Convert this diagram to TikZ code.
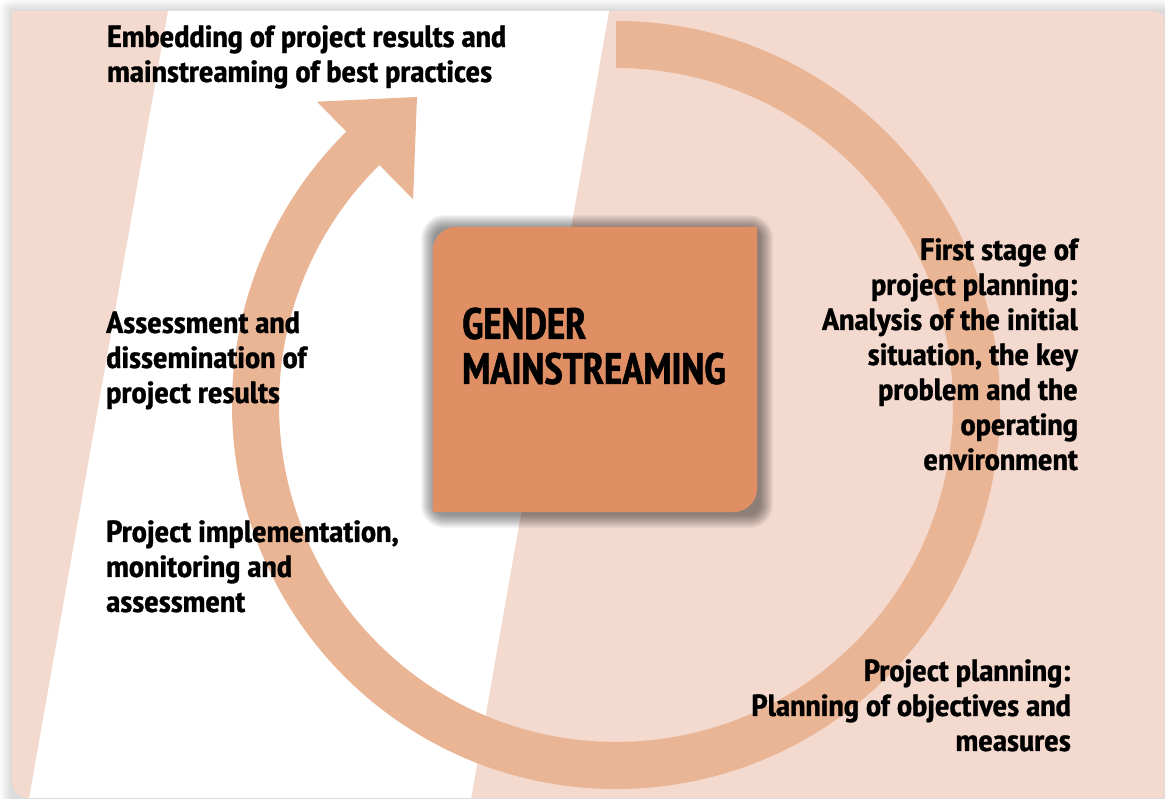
\documentclass[tikz,border=0pt]{standalone}
\usepackage{fontspec}
\IfFontExistsTF{PT Sans Narrow}{%
  \newfontfamily\lblfont{PT Sans Narrow}[FakeStretch=1.12, FakeBold=1]%
  \newfontfamily\ttlfont{PT Sans Narrow}[FakeStretch=0.96, FakeBold=1]}{%
  \newfontfamily\lblfont{PT Sans}[FakeStretch=0.9]%
  \newfontfamily\ttlfont{PT Sans}[FakeStretch=0.77]}
\definecolor{cardbg}{HTML}{F3D9CE}
\definecolor{bandc}{HTML}{EAB594}
\definecolor{boxc}{HTML}{E08F65}
\tikzset{
  lbl/.style={inner sep=0pt, font=\lblfont\bfseries\fontsize{30.5}{35}\selectfont},
  titlelbl/.style={inner sep=0pt, font=\ttlfont\bfseries\fontsize{44}{45}\selectfont},
}
\newcommand{\cardshape}{(12,788) -- (1154,788) arc[start angle=90, end angle=0, radius=10] -- (1164,1) -- (28,1) arc[start angle=270, end angle=180, radius=16] -- cycle}
\begin{document}
\begin{tikzpicture}[x=1pt,y=1pt]
\useasboundingbox (0,0) rectangle (1165,799);
\fill[white] (0,0) rectangle (1165,799);
% card shadow
\foreach \i in {1,...,12}
  \fill[black,opacity=0.012,rounded corners=\i] (12-\i,1-\i) rectangle (1164+\i,788+\i);
% card
\fill[cardbg] \cardshape;
\begin{scope}
  \clip \cardshape;
  \fill[white] (170,799) -- (611,799) -- (471,0) -- (29,0) -- cycle;
\end{scope}
% cycle band with arrow head
\coordinate (C) at (616,394);
\fill[bandc] (616,778) arc[start angle=90, end angle=-225.4, radius=384]
  -- ([shift={(C)}]134.6:426) -- (417,702) -- ([shift={(C)}]134.6:289)
  -- ([shift={(C)}]134.6:337) arc[start angle=-225.4, end angle=90, radius=337] -- cycle;
% central box
\node[minimum width=324pt, minimum height=285pt, inner sep=0pt] (gm) at (595,429.5) {};
\foreach \i in {1,...,14}
  \fill[black,opacity=0.035,rounded corners={10+\i}] ([shift={(2-\i,-2-\i)}]gm.south west) rectangle ([shift={(2+\i,-2+\i)}]gm.north east);
\fill[boxc] (gm.south west) -- ([yshift=-24pt]gm.north west) arc[start angle=180, end angle=90, radius=24]
  -- (gm.north east) -- ([yshift=24pt]gm.south east) arc[start angle=0, end angle=-90, radius=24] -- cycle;
\node[titlelbl, anchor=base west] (gmtext) at (462,460) {\begin{tabular}[t]{@{}l@{}}GENDER\\MAINSTREAMING\end{tabular}};
% labels
\node[lbl, anchor=base west] (embed) at (107,752) {\begin{tabular}[t]{@{}l@{}}Embedding of project results and\\mainstreaming of best practices\end{tabular}};
\node[lbl, anchor=base east] (first) at (1078,539) {\begin{tabular}[t]{@{}r@{}}First stage of\\project planning:\\Analysis of the initial\\situation, the key\\problem and the\\operating\\environment\end{tabular}};
\node[lbl, anchor=base west] (assess) at (106,466) {\begin{tabular}[t]{@{}l@{}}Assessment and\\dissemination of\\project results\end{tabular}};
\node[lbl, anchor=base west] (impl) at (106,257) {\begin{tabular}[t]{@{}l@{}}Project implementation,\\monitoring and\\assessment\end{tabular}};
\node[lbl, anchor=base east] (plan) at (1071,118) {\begin{tabular}[t]{@{}r@{}}Project planning:\\Planning of objectives and\\measures\end{tabular}};
\end{tikzpicture}
\end{document}
